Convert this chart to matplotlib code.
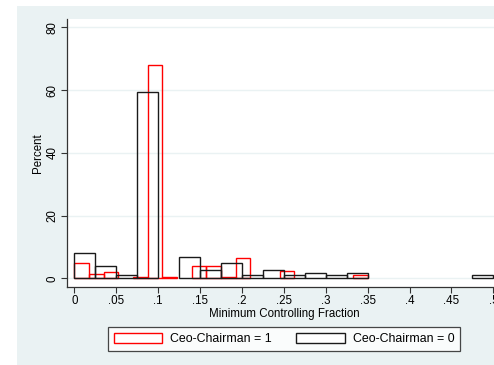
import matplotlib
matplotlib.use('Agg')
import matplotlib.pyplot as plt
from matplotlib.patches import Patch, Rectangle
import numpy as np


# percent of firms per bin, Ceo-Chairman = 1 (20 bins over 0 .. .35)
RED_PCT = [4.8, 1.3, 2.1, 0, 0.5, 67.9, 0.5, 0, 3.9, 3.9,
           0.5, 6.6, 0, 0, 2.3, 0, 0, 0, 0, 1.2]
RED_RANGE = (0.0, 0.35)
# percent of firms per bin, Ceo-Chairman = 0 (20 bins over 0 .. .5)
BLACK_PCT = [8.0, 3.8, 0.9, 59.4, 0, 6.9, 2.7, 4.8, 0.9, 2.7,
             0.9, 1.6, 0.9, 1.6, 0, 0, 0, 0, 0, 0.9]
BLACK_RANGE = (0.0, 0.5)

XTICKS = [0, .05, .1, .15, .2, .25, .3, .35, .4, .45, .5]
XTICKLABELS = ['0', '.05', '.1', '.15', '.2', '.25', '.3', '.35', '.4', '.45', '.5']
YTICKS = [0, 20, 40, 60, 80]
LEGEND_LABELS = ['Ceo-Chairman = 1', 'Ceo-Chairman = 0']

W, H = 494.0, 365.0
BG = '#EAF2F3'
FS = 8.3


def draw_hist(ax, pct, rng, color):
    edges = np.linspace(rng[0], rng[1], len(pct) + 1)
    width = edges[1] - edges[0]
    pct = np.array(pct, dtype=float)
    keep = pct > 0
    ax.bar(edges[:-1][keep], pct[keep], width=width, align='edge',
           fill=False, edgecolor=color, linewidth=1.0)


def main():
    plt.rcParams['font.family'] = ['Liberation Sans', 'DejaVu Sans']
    fig = plt.figure(figsize=(W / 100, H / 100), dpi=100)
    fig.patch.set_facecolor('white')
    # stata graph region
    fig.patches.append(Rectangle((17 / W, 0), 1, (H - 6) / H,
                                 transform=fig.transFigure,
                                 facecolor=BG, edgecolor='none', zorder=-1))

    ax = fig.add_axes([67 / W, 78.3 / H, (501.3 - 67) / W, (286.7 - 19) / H])
    ax.set_facecolor('white')

    draw_hist(ax, RED_PCT, RED_RANGE, '#FF0000')
    draw_hist(ax, BLACK_PCT, BLACK_RANGE, '#1a1a1a')

    ax.set_xlim(-0.0087, 0.5095)
    ax.set_ylim(-2.68, 82.7)
    ax.set_xticks(XTICKS)
    ax.set_xticklabels(XTICKLABELS, fontsize=FS)
    ax.set_yticks(YTICKS)
    ax.set_yticklabels([str(v) for v in YTICKS], fontsize=FS,
                       rotation=90, va='center')
    ax.tick_params(direction='out', length=4, width=0.8, color='#333333',
                   pad=2)
    ax.yaxis.grid(True, color=BG, linewidth=1.0)
    ax.set_axisbelow(True)
    for s in ('top', 'right'):
        ax.spines[s].set_visible(False)
    for s in ('left', 'bottom'):
        ax.spines[s].set_color('#333333')
        ax.spines[s].set_linewidth(0.9)

    ax.set_xlabel('Minimum Controlling Fraction', fontsize=FS, labelpad=1)
    ax.set_ylabel('Percent', fontsize=FS, labelpad=2)

    handles = [Patch(facecolor='white', edgecolor='#FF0000', linewidth=1.0),
               Patch(facecolor='white', edgecolor='#1a1a1a', linewidth=1.0)]
    leg = fig.legend(handles, LEGEND_LABELS, loc='center',
                     bbox_to_anchor=(284 / W, (H - 339) / H), ncol=2,
                     fontsize=8.9, frameon=True, fancybox=False,
                     handlelength=3.9, handleheight=0.95, handletextpad=0.65,
                     columnspacing=2.0, borderpad=0.45, borderaxespad=0)
    leg.get_frame().set_edgecolor('#1a1a1a')
    leg.get_frame().set_linewidth(0.9)

    fig.savefig('out.png', dpi=100, facecolor=fig.get_facecolor())
    plt.close('all')


if __name__ == '__main__':
    main()
